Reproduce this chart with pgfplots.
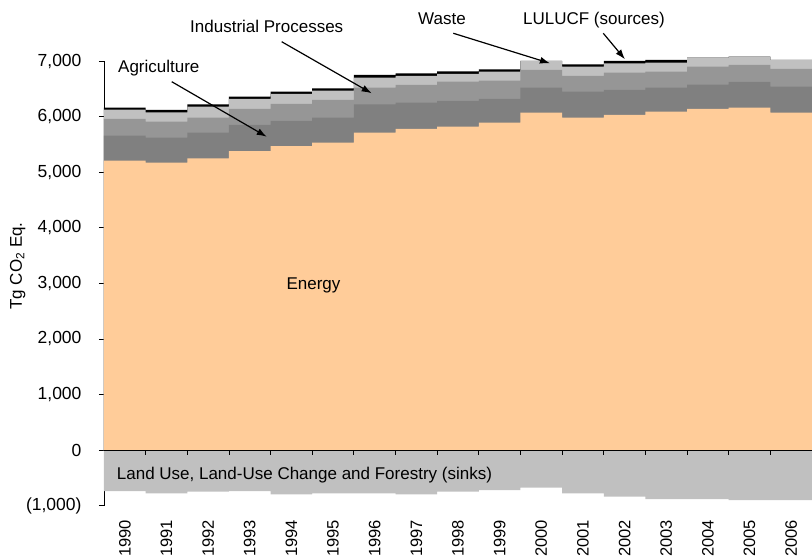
\documentclass[border=0pt]{standalone}
\usepackage{fontspec}
\setmainfont{Liberation Sans}
\usepackage{pgfplots}
\pgfplotsset{compat=1.18}
\usepackage{pgfplotstable}
\usetikzlibrary{arrows.meta}
\definecolor{energyc}{HTML}{FFCC99}
\definecolor{agric}{HTML}{808080}
\definecolor{indc}{HTML}{969696}
\definecolor{wastec}{HTML}{C0C0C0}
\definecolor{sinkc}{HTML}{C0C0C0}

% cumulative tops of each layer (Tg CO2 Eq.); K = LULUCF sinks
\pgfplotstableread{
x  E    A    I    W    S    K
0  5207 5657 5958 6125 6161 -740
1  5171 5621 5909 6079 6120 -780
2  5251 5711 5981 6179 6223 -750
3  5382 5850 6138 6318 6359 -738
4  5472 5922 6228 6408 6449 -798
5  5531 5981 6300 6467 6511 -780
6  5711 6223 6521 6701 6750 -780
7  5778 6251 6570 6732 6781 -798
8  5819 6282 6629 6768 6817 -750
9  5891 6318 6647 6809 6853 -720
10 6071 6521 6840 7002 7002 -678
11 5981 6449 6732 6899 6943 -780
12 6030 6480 6791 6961 7002 -840
13 6089 6521 6809 6971 7020 -882
14 6138 6575 6899 7061 7061 -882
15 6161 6624 6930 7079 7079 -900
16 6071 6539 6858 7020 7020 -900
17 6071 6539 6858 7020 7020 -900
}\data

\begin{document}
\begin{tikzpicture}[font=\fontsize{17}{20}\selectfont]
\begin{axis}[
  at={(0,0)}, anchor=south west,
  scale only axis, width=708pt, height=444.5pt,
  xmin=0, xmax=17, ymin=-1000, ymax=7000,
  clip=false,
  axis x line*=bottom, axis y line*=left,
  x axis line style={draw=none},
  y axis line style={-, line width=0.8pt},
  xtick={0.5,1.5,...,16.5},
  xticklabels={1990,1991,1992,1993,1994,1995,1996,1997,1998,1999,2000,2001,2002,2003,2004,2005,2006},
  x tick style={draw=none},
  xticklabel shift=6pt,
  xticklabel style={rotate=90, anchor=east, font=\fontsize{16.5}{18}\selectfont},
  ytick={-1000,0,1000,2000,3000,4000,5000,6000,7000},
  yticklabels={{(1,000)},0,{1,000},{2,000},{3,000},{4,000},{5,000},{6,000},{7,000}},
  yticklabel style={font=\fontsize{17.5}{20}\selectfont, xshift=-14pt},
  tick align=outside, major tick length=5pt,
  y tick style={black, line width=0.8pt},
  ylabel={Tg CO\textsubscript{2} Eq.},
  ylabel style={at={(axis description cs:-0.122,0.539)}, anchor=center, font=\fontsize{17}{20}\selectfont},
]
\addplot[const plot mark left, fill=black, draw=none] table[x=x, y=S]{\data} \closedcycle;
\addplot[const plot mark left, fill=wastec, draw=none] table[x=x, y=W]{\data} \closedcycle;
\addplot[const plot mark left, fill=indc, draw=none] table[x=x, y=I]{\data} \closedcycle;
\addplot[const plot mark left, fill=agric, draw=none] table[x=x, y=A]{\data} \closedcycle;
\addplot[const plot mark left, fill=energyc, draw=none] table[x=x, y=E]{\data} \closedcycle;
\addplot[const plot mark left, fill=sinkc, draw=none] table[x=x, y=K]{\data} \closedcycle;

\draw[black, line width=0.8pt] (axis cs:0,0) -- (axis cs:17,0);
\pgfplotsinvokeforeach{1,...,16}{\draw[black, line width=0.8pt] (axis cs:#1,0) -- ++(0pt,-5pt);}

\node[anchor=base west, inner sep=0] at (axis cs:0.336,6791) {Agriculture};
\node[anchor=base west, inner sep=0] at (axis cs:2.065,7511) {Industrial Processes};
\node[anchor=base west, inner sep=0] at (axis cs:7.539,7650) {Waste};
\node[anchor=base west, inner sep=0] at (axis cs:10.06,7650) {LULUCF (sources)};
\node[anchor=base, inner sep=0] at (axis cs:5.03,2898) {Energy};
\node[anchor=base west, inner sep=0] at (axis cs:0.305,-522) {Land Use, Land-Use Change and Forestry (sinks)};

\draw[-{Latex[length=10pt,width=7pt]}, line width=1.2pt] (axis cs:1.627,6629) -- (axis cs:3.907,5639);
\draw[-{Latex[length=10pt,width=7pt]}, line width=1.2pt] (axis cs:4.266,7349) -- (axis cs:6.427,6421);
\draw[-{Latex[length=10pt,width=7pt]}, line width=1.2pt] (axis cs:8.387,7501) -- (axis cs:10.708,6961);
\draw[-{Latex[length=10pt,width=7pt]}, line width=1.2pt] (axis cs:11.988,7501) -- (axis cs:12.509,7033);
\end{axis}
\pgfresetboundingbox
\path[use as bounding box] (-104pt,-54.4pt) rectangle (708pt,505.6pt);
\end{tikzpicture}
\end{document}
